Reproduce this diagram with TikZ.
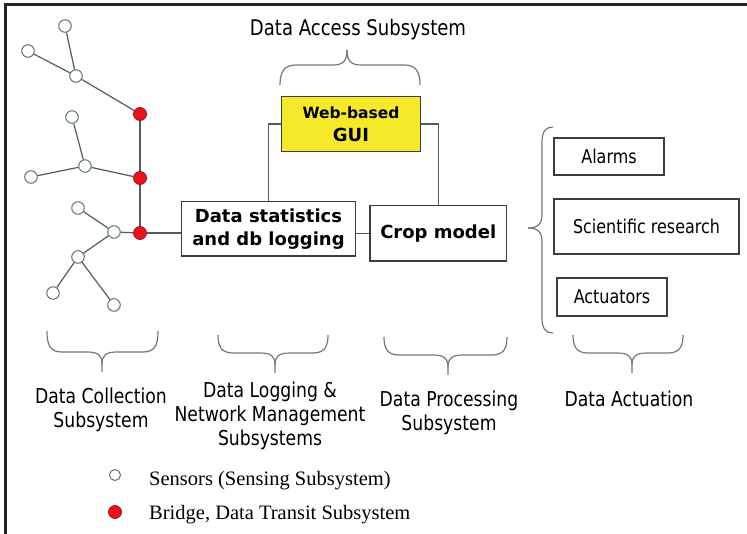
\documentclass[tikz,border=0pt]{standalone}
\usepackage{fontspec}
\setmainfont{Liberation Serif}
\newfontfamily\tah[FakeStretch=0.84]{DejaVu Sans}
\newfontfamily\dvs{DejaVu Sans}
\definecolor{netc}{HTML}{4E5E5E}
\definecolor{sensc}{HTML}{5E7070}
\definecolor{bridgec}{HTML}{E8141C}
\definecolor{bridgeedge}{HTML}{B01015}
\definecolor{boxc}{HTML}{3C3C3C}
\definecolor{bracec}{HTML}{6E7A7A}
\definecolor{guiyellow}{HTML}{F6E92A}
\definecolor{borderc}{HTML}{232323}
\tikzset{
  net/.style={draw=netc, line width=1.2pt},
  sensor/.style={circle, draw=sensc, fill=white, line width=1pt, minimum size=12.5pt, inner sep=0pt},
  bridge/.style={circle, draw=bridgeedge, fill=bridgec, line width=0.8pt, minimum size=13pt, inner sep=0pt},
  boxb/.style={draw=boxc, line width=1.2pt, inner sep=0pt, align=center, font=\dvs\bfseries\fontsize{18}{23}\selectfont},
  boxr/.style={draw=boxc, line width=1.1pt, inner sep=0pt, align=center, font=\tah\fontsize{19}{23}\selectfont},
  lab/.style={font=\tah\fontsize{20.5}{24}\selectfont, align=center, inner sep=0pt, anchor=north},
  brc/.style={draw=bracec, line width=1.2pt},
  legtext/.style={anchor=base west, inner sep=0pt, font=\fontsize{20.5}{24}\selectfont},
}
\newcommand{\downbrace}[6]{%
  \draw[brc] (#1,#4) .. controls (#1,#5-7) and (#1+3,#5) .. (#1+15,#5) -- (#3-15,#5)
     .. controls (#3-3,#5) and (#3,#5+4) .. (#3,#5+12) -- (#3,#6);
  \draw[brc] (#2,#4) .. controls (#2,#5-7) and (#2-3,#5) .. (#2-15,#5) -- (#3+15,#5)
     .. controls (#3+3,#5) and (#3,#5+4) .. (#3,#5+12);
}
\begin{document}
\begin{tikzpicture}[x=1pt, y=-1pt]
\useasboundingbox (0,0) rectangle (747,534);
\fill[white] (0,0) rectangle (747,534);
% frame
\draw[line width=3pt, draw=borderc] (5.5,534) -- (5.5,5) -- (747,5);

% sensor network
\node[sensor] (s1) at (65,26) {};
\node[sensor] (s2) at (28,51) {};
\node[sensor] (j1) at (76,76) {};
\node[bridge] (r1) at (140,114) {};
\node[sensor] (s3) at (72,117) {};
\node[sensor] (j2) at (85,166) {};
\node[sensor] (s4) at (31,177) {};
\node[bridge] (r2) at (140,178) {};
\node[sensor] (s5) at (78,208) {};
\node[sensor] (j3) at (114,232) {};
\node[bridge] (r3) at (140,233) {};
\node[sensor] (j4) at (78,257) {};
\node[sensor] (s6) at (53,293) {};
\node[sensor] (s7) at (114,305) {};
\draw[net] (s1) -- (j1);
\draw[net] (s2) -- (j1);
\draw[net] (j1) -- (r1);
\draw[net] (s3) -- (j2);
\draw[net] (s4) -- (j2);
\draw[net] (j2) -- (r2);
\draw[net] (s5) -- (j3);
\draw[net] (j3) -- (r3);
\draw[net] (j3) -- (j4);
\draw[net] (j4) -- (s6);
\draw[net] (j4) -- (s7);
\draw[net] (r1) -- (r2);
\draw[net] (r2) -- (r3);

% boxes
\node[boxb, minimum width=174pt, minimum height=54.5pt] (stats) at (268.5,228.75) {Data statistics\\and db logging};
\node[boxb, minimum width=136.5pt, minimum height=55.5pt] (crop) at (438.25,233.25) {Crop model};
\node[boxb, fill=guiyellow, minimum width=139pt, minimum height=55pt] (gui) at (351,124)
  {{\fontsize{15.5}{23}\selectfont Web-based}\\GUI};
\node[boxr, minimum width=110pt, minimum height=37pt] (alarms) at (609,156.5) {Alarms};
\node[boxr, minimum width=185pt, minimum height=55pt] (sci) at (646.5,226.5) {Scientific research};
\node[boxr, minimum width=110pt, minimum height=38pt] (act) at (612,297) {Actuators};

% connectors
\draw[net] (r3) -- (r3 -| stats.west);
\draw[net] (crop.west) -- (crop.west -| stats.east);
\draw[net] (gui.west) -| (stats.north);
\draw[net] (gui.east) -| (crop.north);

% top brace
\draw[brc] (280,85) .. controls (280,72) and (284,65) .. (296,65) -- (333,65)
   .. controls (343,65) and (347,61) .. (347,50);
\draw[brc] (420,85) .. controls (420,72) and (416,65) .. (404,65) -- (361,65)
   .. controls (351,65) and (347,61) .. (347,50);
\node[anchor=base, inner sep=0pt, font=\tah\fontsize{21.5}{24}\selectfont] (access) at (358,36) {Data Access Subsystem};

% right brace
\draw[brc] (553,127) .. controls (546,127) and (542,131) .. (542,142) -- (542,214)
   .. controls (542,224) and (538,228) .. (528,228);
\draw[brc] (553,333) .. controls (546,333) and (542,329) .. (542,318) -- (542,242)
   .. controls (542,232) and (538,228) .. (528,228);

% bottom braces
\downbrace{47}{158}{102}{331}{352}{372}
\downbrace{218}{328}{275}{335}{353}{373}
\downbrace{384}{507}{448}{337}{355}{375}
\downbrace{573}{683}{632}{335}{353}{373}

% bottom labels
\node[lab] (lcoll) at (101,387.4) {Data Collection\\Subsystem};
\node[lab] (llog) at (270,381.4) {Data Logging \&\\Network Management\\Subsystems};
\node[lab] (lproc) at (449,390.4) {Data Processing\\Subsystem};
\node[lab] (lact) at (629,390.4) {Data Actuation};

% legend
\node[sensor, minimum size=11pt] (lsens) at (115,475) {};
\node[bridge] (lbr) at (115,512) {};
\node[legtext] (lt1) at (149,485) {Sensors (Sensing Subsystem)};
\node[legtext] (lt2) at (149,519) {Bridge, Data Transit Subsystem};
\end{tikzpicture}
\end{document}
